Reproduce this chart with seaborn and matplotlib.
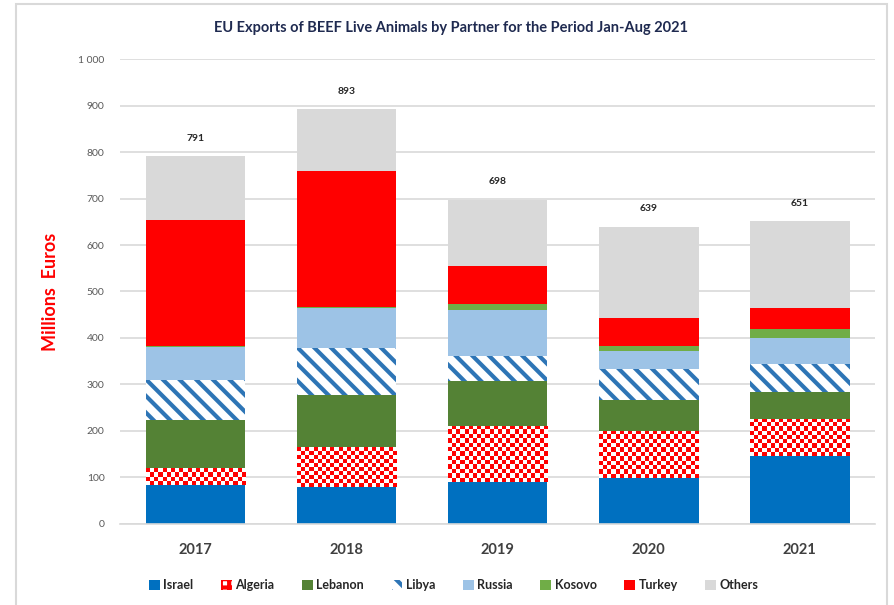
import matplotlib
matplotlib.use("Agg")
import matplotlib.pyplot as plt
import numpy as np
import seaborn as sns
from matplotlib.colors import ListedColormap
from matplotlib.patches import Patch, Rectangle
from matplotlib.ticker import FuncFormatter

# values in million euros
years = ["2017", "2018", "2019", "2020", "2021"]
israel = [83, 78, 90, 97, 145]
algeria = [36, 86, 121, 103, 80]
lebanon = [103, 113, 97, 66, 59]
libya = [87, 101, 53, 66, 59]
russia = [72, 86, 99, 40, 57]
kosovo = [1, 3, 13, 11, 19]
turkey = [272, 293, 83, 59, 46]
others = [137, 133, 142, 197, 186]
totals = [791, 893, 698, 639, 651]

partners = ["Israel", "Algeria", "Lebanon", "Libya", "Russia", "Kosovo", "Turkey", "Others"]
series = [israel, algeria, lebanon, libya, russia, kosovo, turkey, others]
colors = ["#0070C0", "#FF0000", "#548235", "#2E75B6", "#9DC3E6", "#70AD47", "#FF0000", "#D9D9D9"]

sns.set_theme(style="white")
plt.rcParams["font.family"] = ["Lato", "DejaVu Sans"]
plt.rcParams["hatch.linewidth"] = 3.0

fig = plt.figure(figsize=(8.95, 6.05), dpi=100)
ax = fig.add_axes([0.134, 0.1347, 0.844, 0.767])

bottom = np.zeros(len(years))
algeria_bars = []
for name, vals, col in zip(partners, series, colors):
    kw = dict(color=col, linewidth=0)
    if name == "Algeria":
        kw = dict(color="white", linewidth=0)
    elif name == "Libya":
        kw = dict(color="white", edgecolor=col, linewidth=0, hatch="\\\\")
    n_before = len(ax.patches)
    sns.barplot(x=years, y=vals, bottom=bottom, width=0.66, saturation=1,
                errorbar=None, ax=ax, **kw)
    if name == "Algeria":
        algeria_bars = ax.patches[n_before:]
    bottom = bottom + np.array(vals)

# checkerboard texture for Algeria
px_per_unit = ax.bbox.height / 1000
checker = ListedColormap(["white", "#FF0000"])
for bar in algeria_bars:
    x0, y0 = bar.get_x(), bar.get_y()
    w, h = bar.get_width(), bar.get_height()
    ncol = 24
    nrow = max(1, int(round(h * px_per_unit / 4.2)))
    grid = (np.add.outer(np.arange(nrow), np.arange(ncol)) % 2)
    im = ax.imshow(grid, cmap=checker, extent=(x0, x0 + w, y0, y0 + h),
                   origin="lower", aspect="auto", interpolation="nearest",
                   zorder=bar.get_zorder() + 0.1)
    im.set_clip_path(bar)

ax.set_xlim(-0.5, len(years) - 0.5)
ax.set_ylim(0, 1000)
ax.set_yticks(np.arange(0, 1001, 100))
ax.yaxis.set_major_formatter(FuncFormatter(lambda v, p: f"{int(v):,}".replace(",", " ")))
ax.grid(axis="y", color="#D9D9D9", linewidth=1.2)
ax.set_axisbelow(True)
for s in ["left", "right", "top"]:
    ax.spines[s].set_visible(False)
ax.spines["bottom"].set_color("#D9D9D9")
ax.spines["bottom"].set_linewidth(1.2)
ax.tick_params(axis="y", length=0, pad=11, labelsize=7.5, labelcolor="#595959")
ax.tick_params(axis="x", length=0, pad=14, labelsize=10.5, labelcolor="#404040")
for lab in ax.get_xticklabels():
    lab.set_fontweight("bold")
ax.set_xlabel("")
ax.set_ylabel("")

for i, t in enumerate(totals):
    ax.annotate(f"{t}", (i, t), xytext=(0, 13), textcoords="offset points",
                ha="center", va="center", fontsize=7.5, fontweight="bold", color="#262626")

fig.text(0.504, 0.953, "EU Exports of BEEF Live Animals by Partner for the Period Jan-Aug 2021",
         ha="center", va="center", fontsize=10.5, fontweight="bold", color="#1F2A50")
fig.text(0.056, 0.517, "Millions  Euros", rotation=90, ha="center", va="center",
         fontsize=13, fontweight="bold", color="#FF0000")

handles = []
for name, col in zip(partners, colors):
    if name == "Algeria":
        handles.append(Patch(facecolor="white", edgecolor="#FF0000", linewidth=0, hatch="++"))
    elif name == "Libya":
        handles.append(Patch(facecolor="white", edgecolor=col, linewidth=0, hatch="\\\\"))
    else:
        handles.append(Patch(facecolor=col, linewidth=0))
fig.legend(handles, partners, loc="center", bbox_to_anchor=(0.507, 0.033), ncol=8,
           frameon=False, handlelength=0.85, handleheight=0.85,
           handletextpad=0.3, columnspacing=2.2, prop={"weight": "bold", "size": 9})

fig.add_artist(Rectangle((16 / 895, -0.01), 871 / 895, 1 - 4 / 605 + 0.01,
                         transform=fig.transFigure, fill=False,
                         edgecolor="#D9D9D9", linewidth=1.5))

fig.savefig("out.png", dpi=100)
